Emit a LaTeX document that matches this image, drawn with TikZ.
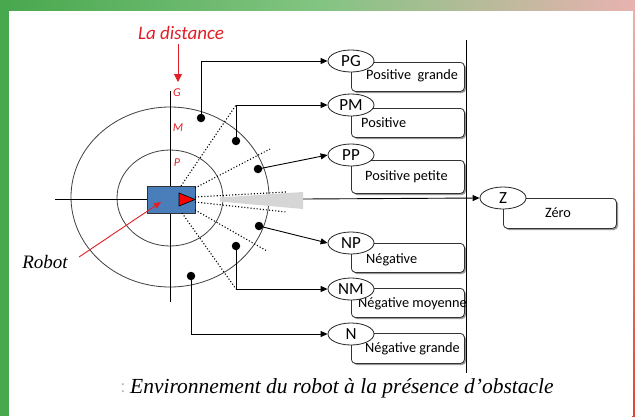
\documentclass[tikz,border=0pt]{standalone}
\usepackage{fontspec}
\setmainfont{Liberation Serif}
\newfontfamily\calfont{Carlito}
\usetikzlibrary{arrows.meta,shadows,shapes.geometric}
\definecolor{robotblue}{RGB}{74,126,187}
\definecolor{lblred}{RGB}{226,30,38}
\definecolor{gleft}{RGB}{72,168,78}
\definecolor{gmid}{RGB}{130,196,130}
\definecolor{gright}{RGB}{232,178,176}
\definecolor{redline}{RGB}{222,70,50}
\begin{document}
\begin{tikzpicture}[x=1pt,y=-1pt,
  box/.style={draw=black!80, fill=white, rounded corners=4pt, line width=0.8pt,
    drop shadow={shadow xshift=1.6pt, shadow yshift=-1.6pt, fill=black!50, opacity=0.8},
    inner sep=0pt, anchor=north west, minimum width=113pt},
  lab/.style={ellipse, draw=black!85, fill=white, line width=0.8pt, minimum width=46pt,
    minimum height=22pt, inner sep=0pt, font=\calfont\fontsize{17}{17}\selectfont},
  btxt/.style={anchor=west, inner sep=0pt, font=\calfont\fontsize{14.3}{15}\selectfont},
  dot/.style={circle, fill=black, inner sep=0pt, minimum size=8.5pt},
  conn/.style={line width=0.9pt, -{Triangle[length=7pt,width=6pt]}},
  ring/.style={draw=black!75, line width=0.8pt},
  ray/.style={dotted, line width=1.1pt},
  zone/.style={text=lblred, font=\calfont\itshape\fontsize{12}{12}\selectfont, inner sep=0pt}]
% background
\useasboundingbox (0,0) rectangle (635,416);
\shade[left color=gleft, right color=gright, middle color=gmid] (0,0) rectangle (635,12);
\fill[gleft] (0,0) rectangle (9,416);
\shade[top color=gright, bottom color=redline] (632,11) rectangle (635,416);
\fill[white] (9,11) rectangle (632.5,416);
% rings and axes
\draw[ring] (170,197) ellipse [x radius=99, y radius=90];
\draw[ring] (170,198) ellipse [x radius=53, y radius=48];
\draw[line width=0.8pt] (170,91) -- (170,302);
\coordinate (axL) at (55,199);
\coordinate (axR) at (303,199);
\draw[line width=0.8pt] (axL) -- (147,199);
% gray cone
\fill[black!16] (220,197.5) -- (303,192) -- (303,209) -- (220,201.5) -- cycle;
% robot
\node[draw=black!80, fill=robotblue, line width=0.8pt, minimum width=48pt, minimum height=27pt, inner sep=0pt] (robot) at (171,199.5) {};
\fill[red, draw=black, line width=0.7pt] (179,193) -- (195,199.5) -- (179,206) -- cycle;
% dots
\node[dot] (d1) at (201,118) {};
\node[dot] (d2) at (236,141) {};
\node[dot] (d3) at (258,169) {};
\node[dot] (d4) at (259,226) {};
\node[dot] (d5) at (236,246) {};
\node[dot] (d6) at (191,276) {};
% boxes
\node[box, minimum height=29pt] (bPG) at (351,62) {};
\node[box, minimum height=29pt] (bPM) at (351,108) {};
\node[box, minimum height=33pt] (bPP) at (351,160) {};
\node[box, minimum height=30pt] (bZ) at (503,198) {};
\node[box, minimum height=29pt] (bNP) at (351,243) {};
\node[box, minimum height=29pt] (bNM) at (351,288) {};
\node[box, minimum height=30pt] (bN) at (351,333) {};
% vertical bar
\draw[line width=0.9pt] (466,40) -- (466,373);
% box texts
\node[btxt] (tPG) at (366,76) {Positive~ grande};
\node[btxt] (tPM) at (361,123) {Positive};
\node[btxt] (tPP) at (365,177) {Positive petite};
\node[btxt, anchor=center] (tZ) at (558,213) {Zéro};
\node[btxt] (tNP) at (366,260) {Négative};
\node[btxt] (tNM) at (358,304) {Négative moyenne};
\node[btxt] (tN) at (365,349) {Négative grande};
% label ellipses
\node[lab] (PG) at (351,61) {PG};
\node[lab] (PM) at (351,105) {PM};
\node[lab] (PP) at (351,155) {PP};
\node[lab] (Z) at (503,198) {Z};
\node[lab] (NP) at (351,243) {NP};
\node[lab] (NM) at (351,289) {NM};
\node[lab] (N) at (351,334) {N};
% dotted rays
\coordinate (j2) at (d2 |- PM.west);
\coordinate (j5) at (d5 |- NM.west);
\coordinate (r1) at (181,186);
\coordinate (r2) at (195,188);
\coordinate (r3) at (195,197);
\coordinate (r4) at (195,202);
\coordinate (r5) at (195,210);
\coordinate (r6) at (182,213);
\coordinate (e2) at (270,149);
\coordinate (e3) at (286,192);
\coordinate (e4) at (286,212);
\coordinate (e5) at (267,251);
\draw[ray] (r1) -- (j2);
\draw[ray] (r2) -- (e2);
\draw[ray] (r3) -- (e3);
\draw[ray] (r4) -- (e4);
\draw[ray] (r5) -- (e5);
\draw[ray] (r6) -- (j5);
% connectors
\draw[conn] (d1.center) |- (PG.west);
\draw[conn] (d2.center) |- (PM.west);
\draw[conn] (d3.center) -- (PP.west);
\draw[conn] (axR) -- (Z.west);
\draw[conn] (d4.center) -- (NP.west);
\draw[conn] (d5.center) |- (NM.west);
\draw[conn] (d6.center) |- (N.west);
% zone labels
\node[zone] (G) at (177,93) {G};
\node[zone] (M) at (178,128) {M};
\node[zone] (P) at (177,163) {P};
% La distance
\node[text=lblred, font=\calfont\itshape\fontsize{19}{19}\selectfont, inner sep=0pt] (ld) at (181,33) {La distance};
\coordinate (ldA) at (178,44);
\coordinate (ldB) at (178,82);
\draw[lblred, line width=0.9pt, -{Triangle[length=8pt,width=8pt]}] (ldA) -- (ldB);
% Robot label
\node[font=\itshape\fontsize{19}{19}\selectfont, inner sep=0pt] (rl) at (45,262) {Robot};
\coordinate (rs) at (79,257);
\coordinate (rt) at (161,202);
\draw[lblred, line width=0.9pt, -{Triangle[length=7pt,width=6pt]}] (rs) -- (rt);
% caption
\node[text=black!25, font=\fontsize{19}{19}\selectfont, inner sep=0pt] (colon) at (123,388) {:};
\node[font=\itshape\fontsize{21.5}{21.5}\selectfont, inner sep=0pt, anchor=west] (cap) at (130,388) {Environnement du robot à la présence d’obstacle};
\end{tikzpicture}
\end{document}
